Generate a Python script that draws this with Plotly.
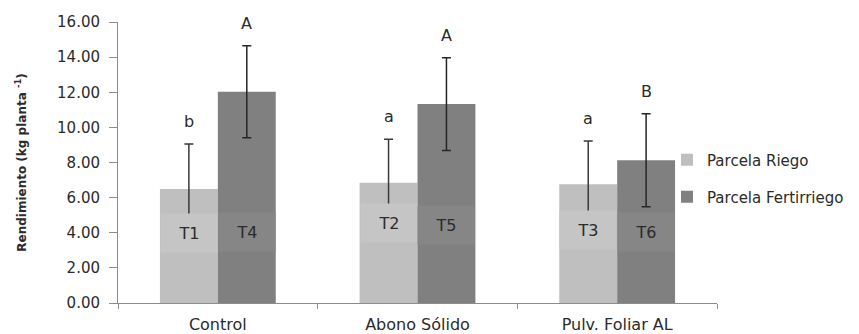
import plotly.graph_objects as go

categories = ["Control", "Abono Sólido", "Pulv. Foliar AL"]
riego = [6.49, 6.85, 6.76]
riego_err = [2.56, 2.47, 2.47]
fert = [12.03, 11.33, 8.13]
fert_err = [2.62, 2.64, 2.65]
riego_letters = ["b", "a", "a"]
fert_letters = ["A", "A", "B"]
riego_tags = ["T1", "T2", "T3"]
fert_tags = ["T4", "T5", "T6"]
y_ticks = [0, 2, 4, 6, 8, 10, 12, 14, 16]

# label placement (layout, not data)
riego_tag_y = [3.99, 4.56, 4.16]
fert_tag_y = [4.04, 4.44, 4.04]

FONT = "DejaVu Sans"
TXT = "#2b2b2b"
C_RIEGO = "#bfbfbf"
C_FERT = "#808080"
BOX_RIEGO = "#c5c5c5"
BOX_FERT = "#868686"

fig = go.Figure()
fig.add_trace(go.Bar(
    x=categories, y=riego, name="Parcela Riego", marker_color=C_RIEGO,
    marker_line_width=0, offsetgroup="r", legend="legend",
    error_y=dict(type="data", array=riego_err, color="#3a3a3a", thickness=1.5, width=4.5),
))
fig.add_trace(go.Bar(
    x=categories, y=fert, name="Parcela Fertirriego", marker_color=C_FERT,
    marker_line_width=0, offsetgroup="f", legend="legend2",
    error_y=dict(type="data", array=fert_err, color="#262626", thickness=1.5, width=4.5),
))

annotations = []
for i, c in enumerate(categories):
    for vals, errs, letters, tags, tag_y, off, box in (
        (riego, riego_err, riego_letters, riego_tags, riego_tag_y, -0.145, BOX_RIEGO),
        (fert, fert_err, fert_letters, fert_tags, fert_tag_y, 0.145, BOX_FERT),
    ):
        annotations.append(dict(
            x=i + off, y=vals[i] + errs[i], xref="x", yref="y",
            text=letters[i], showarrow=False, yanchor="bottom", yshift=11,
            font=dict(family=FONT, size=16, color=TXT),
        ))
        annotations.append(dict(
            x=i + off, y=tag_y[i], xref="x", yref="y",
            text=tags[i], showarrow=False, width=54, height=36,
            bgcolor=box,
            font=dict(family=FONT, size=16, color=TXT),
        ))

fig.update_layout(
    width=851, height=326,
    margin=dict(l=110, r=142, t=14, b=31, autoexpand=False),
    paper_bgcolor="white", plot_bgcolor="white",
    font=dict(family=FONT, size=15, color=TXT),
    barmode="group", bargap=0.42, bargroupgap=0,
    showlegend=True,
    legend=dict(x=0.9165, y=0.509, xanchor="left", yanchor="middle",
                itemwidth=30, font=dict(family=FONT, size=15, color=TXT),
                bgcolor="rgba(0,0,0,0)"),
    legend2=dict(x=0.9165, y=0.377, xanchor="left", yanchor="middle",
                 itemwidth=30, font=dict(family=FONT, size=15, color=TXT),
                 bgcolor="rgba(0,0,0,0)"),
    annotations=annotations,
)
fig.update_xaxes(
    type="category", range=[-0.5, 2.5], automargin=False,
    showline=True, linecolor="#8c8c8c", linewidth=1,
    ticks="outside", tickson="boundaries", ticklen=5, tickcolor="#8c8c8c",
    ticklabelstandoff=7,
    tickfont=dict(family=FONT, size=16, color=TXT), showgrid=False,
)
fig.update_yaxes(
    range=[0, 16], tickvals=y_ticks, tickformat=".2f", automargin=False,
    showline=True, linecolor="#8c8c8c", linewidth=1,
    ticks="outside", ticklen=8, tickcolor="#8c8c8c", showgrid=False, zeroline=False,
    ticklabelstandoff=6,
    tickfont=dict(family=FONT, size=15, color=TXT),
    title=dict(text="<b>Rendimiento (kg planta <sup>-1</sup>)</b>",
               font=dict(family=FONT, size=12, color=TXT), standoff=27),
)

fig.write_html("out.html")
